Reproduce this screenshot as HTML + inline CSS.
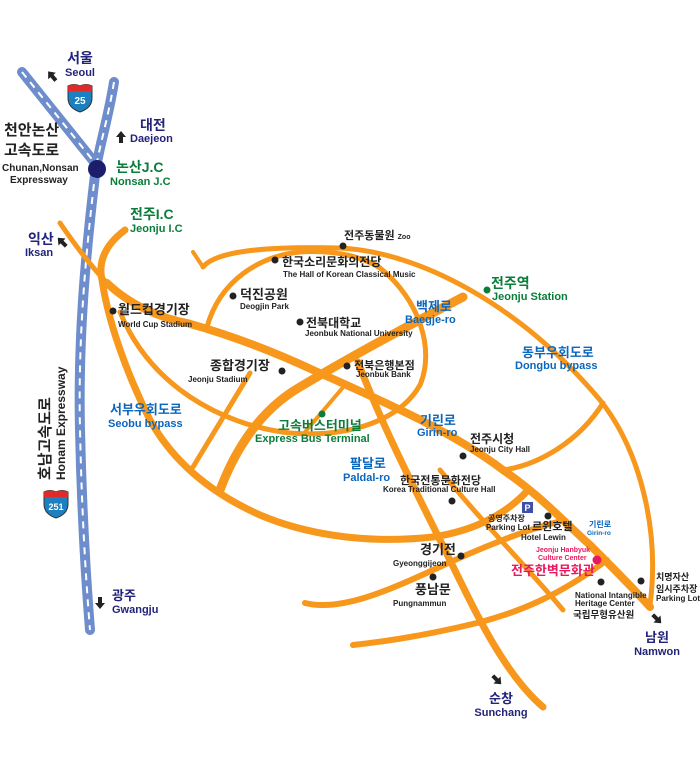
<!DOCTYPE html>
<html><head><meta charset="utf-8">
<style>
html,body{margin:0;padding:0;background:#fff;width:700px;height:772px;overflow:hidden}
svg text{font-family:"Liberation Sans","Noto Sans CJK KR",sans-serif}
.k{font-weight:bold;fill:#222}
.e{font-size:8px;font-weight:bold;fill:#222}
.g{fill:#0b7d3a;font-weight:bold}
.b{fill:#0b66bd;font-weight:bold}
.n{fill:#23237a;font-weight:bold}
.r{fill:none;stroke:#F7981C;stroke-linecap:round}
</style></head><body>
<svg width="700" height="772" viewBox="0 0 700 772">
<defs>
<path id="arr" d="M0,-6 L5,0 L2,0 L2,6 L-2,6 L-2,0 L-5,0 Z" fill="#222"/>
</defs>
<g>
<path d="M22,72 L95,163" stroke="#6e8dcc" stroke-width="10" fill="none" stroke-linecap="round"/>
<path d="M114,82 C108,120 98,150 95,175 C85,260 78,340 80,430 C82,520 86,580 90,630" stroke="#6e8dcc" stroke-width="10" fill="none" stroke-linecap="round"/>
<path d="M22,72 L95,163" stroke="#fff" stroke-width="2" fill="none" stroke-dasharray="7 6"/>
<path d="M114,82 C108,120 98,150 95,175 C85,260 78,340 80,430 C82,520 86,580 90,630" stroke="#fff" stroke-width="2" fill="none" stroke-dasharray="7 6"/>
<circle cx="97" cy="169" r="9" fill="#1d1e6b"/>
</g>
<g>
<path class="r" stroke-width="5" d="M60,223 C75,245 90,265 107,283"/>
<path class="r" stroke-width="8" d="M107,283 C130,305 160,318 187,323 C230,335 270,350 313,370 C380,400 450,430 503,470 C540,495 565,523 590,545 C615,570 635,590 650,607"/>
<path class="r" stroke-width="7" d="M125,230 C105,245 98,262 102,280 C108,320 125,370 150,420 C175,465 215,495 260,515 C300,532 360,545 433,537 C480,530 510,510 528,490"/>
<path class="r" stroke-width="5" d="M203,267 C215,252 260,246 340,248 C420,252 520,305 600,400 C640,450 660,530 650,605"/>
<path class="r" stroke-width="4" d="M193,252 L203,267"/>
<path class="r" stroke-width="5" d="M120,312 C150,385 220,425 290,433 C350,438 400,420 420,385 C435,350 420,300 380,268 C360,255 330,250 300,252 C260,256 220,280 207,327"/>
<path class="r" stroke-width="9" d="M220,490 C235,450 260,410 300,387 C350,357 400,330 463,297"/>
<path class="r" stroke-width="7" d="M358,362 C380,420 410,480 440,540 C470,600 500,670 543,707"/>
<path class="r" stroke-width="5" d="M250,373 L193,467"/>
<path class="r" stroke-width="4" d="M345,385 L305,432"/>
<path class="r" stroke-width="5" d="M440,470 C480,520 530,570 563,610"/>
<path class="r" stroke-width="5" d="M603,403 C580,440 540,465 503,470"/>
<path class="r" stroke-width="6" d="M305,603 C340,612 390,590 433,570 C480,548 530,528 562,521"/>
<path class="r" stroke-width="6" d="M353,645 C400,640 440,632 477,623 C520,612 560,595 607,560"/>
</g>
<g transform="translate(68,84)">
<path d="M0,2 Q6,-1 12,2 Q18,-1 24,2 L24,14 Q24,24 12,28 Q0,24 0,14 Z" fill="#1c7fc0" stroke="#333" stroke-width="1"/>
<path d="M0,2 Q6,-1 12,2 Q18,-1 24,2 L24,7 L0,7 Z" fill="#e02a2a"/>
<text x="12" y="20" font-size="10" font-weight="bold" fill="#fff" text-anchor="middle">25</text>
</g>
<g transform="translate(44,490)">
<path d="M0,2 Q6,-1 12,2 Q18,-1 24,2 L24,14 Q24,24 12,28 Q0,24 0,14 Z" fill="#1c7fc0" stroke="#333" stroke-width="1"/>
<path d="M0,2 Q6,-1 12,2 Q18,-1 24,2 L24,7 L0,7 Z" fill="#e02a2a"/>
<text x="12" y="20" font-size="9" font-weight="bold" fill="#fff" text-anchor="middle">251</text>
</g>
<g>
<use href="#arr" transform="translate(52,76) rotate(-40)"/>
<use href="#arr" transform="translate(121,137)"/>
<use href="#arr" transform="translate(62,242) rotate(-45)"/>
<use href="#arr" transform="translate(100,603) rotate(180)"/>
<use href="#arr" transform="translate(497,680) rotate(135)"/>
<use href="#arr" transform="translate(657,619) rotate(135)"/>
</g>
<text class="n" x="80" y="63" font-size="14" text-anchor="middle">서울</text>
<text class="n" x="80" y="76" font-size="11" text-anchor="middle">Seoul</text>
<text class="k" x="4" y="135" font-size="15">천안논산</text>
<text class="k" x="4" y="155" font-size="15">고속도로</text>
<text class="k" x="2" y="171" font-size="10">Chunan,Nonsan</text>
<text class="k" x="10" y="183" font-size="10">Expressway</text>
<text class="n" x="140" y="130" font-size="14">대전</text>
<text class="n" x="130" y="142" font-size="11">Daejeon</text>
<text class="g" x="116" y="172" font-size="14">논산J.C</text>
<text class="g" x="110" y="185" font-size="11">Nonsan J.C</text>
<text class="g" x="130" y="219" font-size="14">전주I.C</text>
<text class="g" x="130" y="232" font-size="11">Jeonju I.C</text>
<text class="n" x="28" y="244" font-size="14">익산</text>
<text class="n" x="25" y="256" font-size="11">Iksan</text>
<g transform="translate(50,480) rotate(-90)">
<text class="k" x="0" y="0" font-size="15">호남고속도로</text>
<text class="k" x="0" y="15" font-size="12">Honam Expressway</text>
</g>
<text class="n" x="112" y="600" font-size="13">광주</text>
<text class="n" x="112" y="613" font-size="11">Gwangju</text>
<g fill="#222">
<circle cx="343" cy="246" r="3.5"/><circle cx="275" cy="260" r="3.5"/><circle cx="233" cy="296" r="3.5"/>
<circle cx="113" cy="311" r="3.5"/><circle cx="300" cy="322" r="3.5"/><circle cx="282" cy="371" r="3.5"/>
<circle cx="347" cy="366" r="3.5"/><circle cx="463" cy="456" r="3.5"/><circle cx="452" cy="501" r="3.5"/>
<circle cx="548" cy="516" r="3.5"/><circle cx="461" cy="556" r="3.5"/><circle cx="433" cy="577" r="3.5"/>
<circle cx="601" cy="582" r="3.5"/><circle cx="641" cy="581" r="3.5"/>
<circle cx="487" cy="290" r="3.5" fill="#0b7d3a"/><circle cx="322" cy="414" r="3.5" fill="#0b7d3a"/>
<circle cx="597" cy="560" r="4.5" fill="#e8185f"/>
</g>
<text class="k" x="344" y="239" font-size="11">전주동물원 <tspan font-size="7">Zoo</tspan></text>
<text class="k" x="282" y="266" font-size="12">한국소리문화의전당</text>
<text class="e" x="283" y="277">The Hall of Korean Classical Music</text>
<text class="k" x="240" y="299" font-size="13">덕진공원</text>
<text class="e" x="240" y="309" font-size="9">Deogjin Park</text>
<text class="k" x="118" y="314" font-size="13">월드컵경기장</text>
<text class="e" x="118" y="327" font-size="9">World Cup Stadium</text>
<text class="k" x="306" y="327" font-size="12">전북대학교</text>
<text class="e" x="305" y="336" font-size="7">Jeonbuk National University</text>
<text class="k" x="210" y="370" font-size="13">종합경기장</text>
<text class="e" x="188" y="382" font-size="8.5">Jeonju Stadium</text>
<text class="k" x="354" y="369" font-size="11">전북은행본점</text>
<text class="e" x="356" y="377" font-size="7">Jeonbuk Bank</text>
<text class="g" x="491" y="288" font-size="14">전주역</text>
<text class="g" x="492" y="300" font-size="11">Jeonju Station</text>
<text class="b" x="416" y="311" font-size="13">백제로</text>
<text class="b" x="405" y="323" font-size="11">Baegje-ro</text>
<text class="b" x="522" y="357" font-size="13">동부우회도로</text>
<text class="b" x="515" y="369" font-size="11">Dongbu bypass</text>
<text class="b" x="110" y="414" font-size="13">서부우회도로</text>
<text class="b" x="108" y="427" font-size="11">Seobu bypass</text>
<text class="g" x="278" y="430" font-size="13">고속버스터미널</text>
<text class="g" x="255" y="442" font-size="11">Express Bus Terminal</text>
<text class="b" x="420" y="425" font-size="13">기린로</text>
<text class="b" x="417" y="436" font-size="11">Girin-ro</text>
<text class="k" x="470" y="443" font-size="12">전주시청</text>
<text class="e" x="470" y="452">Jeonju City Hall</text>
<text class="b" x="350" y="468" font-size="13">팔달로</text>
<text class="b" x="343" y="481" font-size="11">Paldal-ro</text>
<text class="k" x="400" y="484" font-size="11">한국전통문화전당</text>
<text class="e" x="383" y="492" font-size="7">Korea Traditional Culture Hall</text>
<rect x="522" y="502" width="11" height="11" fill="#3d4fa8"/>
<text x="527.5" y="511" font-size="9" font-weight="bold" fill="#fff" text-anchor="middle">P</text>
<text class="k" x="488" y="521" font-size="8">공영주차장</text>
<text class="e" x="486" y="530" font-size="7">Parking Lot</text>
<text class="k" x="532" y="530" font-size="11">르윈호텔</text>
<text class="e" x="521" y="540" font-size="9">Hotel Lewin</text>
<text class="b" x="589" y="527" font-size="8">기린로</text>
<text class="b" x="587" y="535" font-size="6.5">Girin-ro</text>
<text class="k" x="420" y="554" font-size="13">경기전</text>
<text class="e" x="393" y="566" font-size="8.5">Gyeonggijeon</text>
<text x="536" y="552" font-size="7" font-weight="bold" fill="#e8185f">Jeonju Hanbyuk</text>
<text x="538" y="560" font-size="7" font-weight="bold" fill="#e8185f">Culture Center</text>
<text x="511" y="575" font-size="13" font-weight="bold" fill="#e8185f">전주한벽문화관</text>
<text class="k" x="415" y="594" font-size="13">풍남문</text>
<text class="e" x="393" y="606" font-size="8.5">Pungnammun</text>
<text class="e" x="575" y="598" font-size="6.5">National Intangible</text>
<text class="e" x="575" y="606" font-size="6.5">Heritage Center</text>
<text class="k" x="573" y="618" font-size="9.5">국립무형유산원</text>
<text class="k" x="656" y="580" font-size="9">치명자산</text>
<text class="k" x="656" y="592" font-size="9">임시주차장</text>
<text class="e" x="656" y="601" font-size="7">Parking Lot</text>
<text class="n" x="657" y="642" font-size="13" text-anchor="middle">남원</text>
<text class="n" x="657" y="655" font-size="11" text-anchor="middle">Namwon</text>
<text class="n" x="501" y="703" font-size="13" text-anchor="middle">순창</text>
<text class="n" x="501" y="716" font-size="11" text-anchor="middle">Sunchang</text>
</svg>
</body></html>
